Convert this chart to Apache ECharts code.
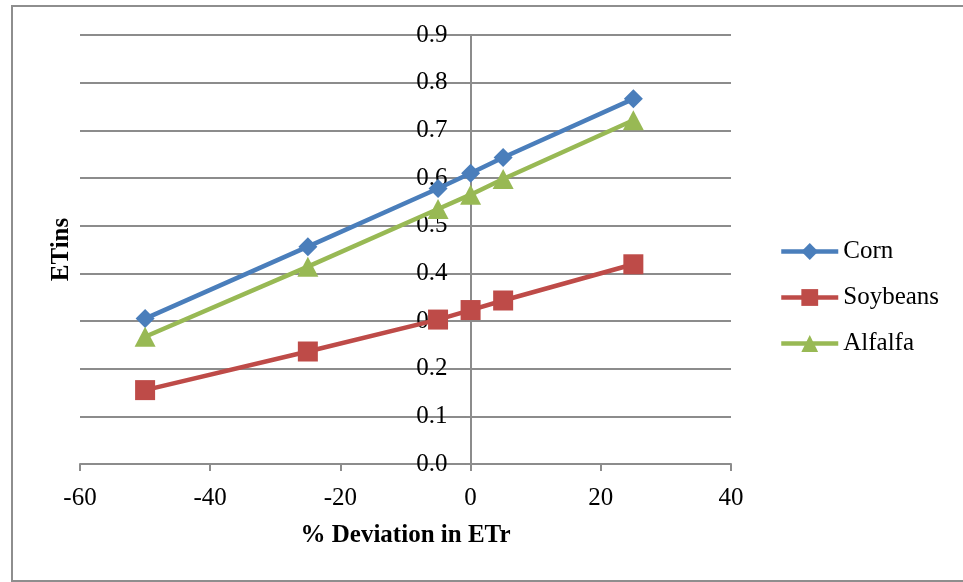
<!DOCTYPE html>
<html>
<head>
<meta charset="utf-8">
<script src="https://cdn.jsdelivr.net/npm/echarts@6/dist/echarts.min.js"></script>
<style>
  html, body { margin: 0; padding: 0; background: #ffffff; }
  #chart { width: 963px; height: 582px; }
</style>
</head>
<body>
<div id="chart"></div>
<script>
// % deviation in ETr (x) and the resulting ETins for each crop
const deviation = [-50, -25, -5, 0, 5, 25];
const corn      = [0.305, 0.456, 0.578, 0.610, 0.643, 0.766];
const soybeans  = [0.155, 0.236, 0.303, 0.323, 0.343, 0.419];
const alfalfa   = [0.267, 0.414, 0.535, 0.565, 0.598, 0.721];

const seriesNames = ['Corn', 'Soybeans', 'Alfalfa'];
const seriesColors = ['#4A7EBB', '#BE4B48', '#98B954'];

const font = 'Liberation Serif, Times New Roman, serif';
const fontSize = 25;
const axisGray = '#8c8c8c';

const W = 963, H = 582;
const grid = { left: 80, right: 232, top: 35, bottom: 118 };
const xMin = -60, xMax = 40;
// the value axis crosses the horizontal axis at x = 0
const yAxisShift = (W - grid.left - grid.right) * (0 - xMin) / (xMax - xMin);

function pairs(values) {
  return deviation.map((x, i) => [x, values[i]]);
}

const chart = echarts.init(document.getElementById('chart'), null, { renderer: 'canvas' });

const lineSeries = [
  { name: seriesNames[0], data: pairs(corn), symbol: 'diamond', symbolSize: 19 },
  { name: seriesNames[1], data: pairs(soybeans), symbol: 'rect', symbolSize: 20 },
  { name: seriesNames[2], data: pairs(alfalfa), symbol: 'triangle', symbolSize: [21, 20] }
].map((s, i) => ({
  type: 'line',
  name: s.name,
  data: s.data,
  symbol: s.symbol,
  symbolSize: s.symbolSize,
  showAllSymbol: true,
  lineStyle: { color: seriesColors[i], width: 4.5 },
  itemStyle: { color: seriesColors[i] },
  emphasis: { disabled: true },
  animation: false
}));

chart.setOption({
  backgroundColor: '#ffffff',
  animation: false,
  graphic: [{
    type: 'rect',
    shape: { x: 12, y: 6, width: 1000, height: 575 },
    style: { fill: 'none', stroke: '#8e8e8e', lineWidth: 2 },
    silent: true
  }],
  grid: Object.assign({ outerBoundsMode: 'none', containLabel: false }, grid),
  legend: {
    orient: 'vertical',
    left: 774,
    top: 234,
    itemWidth: 57,
    itemHeight: 21,
    itemGap: 21,
    data: seriesNames,
    lineStyle: { width: 4.5 },
    textStyle: { fontFamily: font, fontSize: fontSize, color: '#000000' }
  },
  xAxis: {
    type: 'value',
    min: xMin,
    max: xMax,
    interval: 20,
    name: '% Deviation in ETr',
    nameLocation: 'middle',
    nameGap: 59,
    nameTextStyle: { fontFamily: font, fontSize: fontSize, fontWeight: 'bold', color: '#000000' },
    axisLine: { onZero: false, lineStyle: { color: axisGray, width: 2 } },
    axisTick: { show: true, length: 7, lineStyle: { color: axisGray, width: 2 } },
    axisLabel: { fontFamily: font, fontSize: fontSize, color: '#000000', margin: 22 },
    splitLine: { show: false }
  },
  yAxis: {
    type: 'value',
    min: 0,
    max: 0.9,
    interval: 0.1,
    offset: -yAxisShift,
    name: 'ETins',
    nameLocation: 'middle',
    nameGap: 397,
    nameRotate: 90,
    nameTextStyle: { fontFamily: font, fontSize: fontSize, fontWeight: 'bold', color: '#000000' },
    axisLine: { onZero: false, lineStyle: { color: axisGray, width: 2 } },
    axisTick: { show: true, length: 5, lineStyle: { color: axisGray, width: 2 } },
    axisLabel: {
      fontFamily: font, fontSize: fontSize, color: '#000000', margin: 23,
      formatter: v => v.toFixed(1)
    },
    splitLine: { show: true, lineStyle: { color: axisGray, width: 2 } }
  },
  series: lineSeries
});
</script>
</body>
</html>
